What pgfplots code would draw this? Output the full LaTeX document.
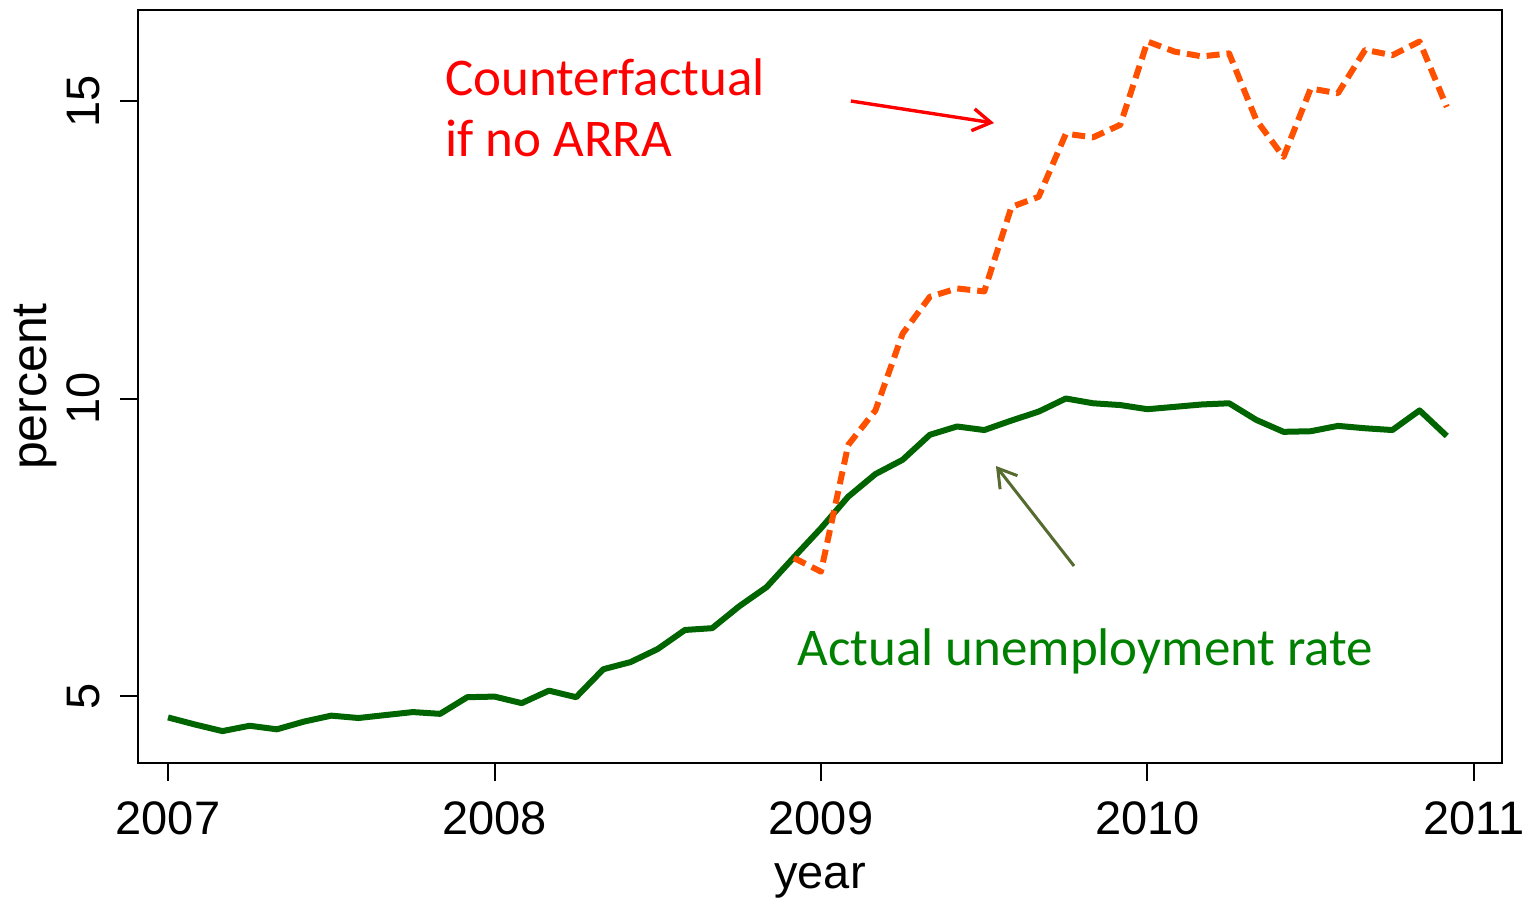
\documentclass[border=0pt]{standalone}
\usepackage{pgfplots}
\pgfplotsset{compat=1.18}
\usepackage{fontspec}
\setmainfont{Liberation Sans}
\newfontfamily\calibri{Carlito}
\usetikzlibrary{arrows.meta}
\definecolor{cfor}{HTML}{FF5000}
\definecolor{actg}{HTML}{006400}
\definecolor{arrg}{HTML}{556B2F}
\definecolor{txtg}{HTML}{008000}
\begin{document}
\begin{tikzpicture}
\begin{axis}[
  scale only axis, width=682pt, height=376.5pt,
  xmin=-1.103, xmax=49.03, ymin=3.874, ymax=16.53,
  axis line style={line width=1.4pt},
  xtick={0,12,24,36,48}, xticklabels={2007,2008,2009,2010,2011},
  ytick={5,10,15}, yticklabels={5,10,15},
  xtick pos=bottom, ytick pos=left, tick align=outside,
  major tick length=9pt,
  every tick/.style={black, line width=1pt},
  tick label style={font=\fontsize{23.5}{28}\selectfont},
  xticklabel style={inner sep=0pt, anchor=north, yshift=-10pt},
  yticklabel style={xshift=-10pt, rotate=90, inner sep=0pt, anchor=south},
  xlabel={year}, ylabel={percent},
  xlabel style={font=\fontsize{23.5}{28}\selectfont, at={(axis description cs:0.5,0)}, anchor=north, inner sep=0pt, yshift=-50pt},
  ylabel style={font=\fontsize{25}{30}\selectfont, at={(axis description cs:-0.0594,0.5)}, anchor=south, inner sep=0pt},
  clip=false,
]
\addplot[actg, line width=3pt, line join=round] coordinates {
(0,4.64) (1,4.52) (2,4.41) (3,4.50) (4,4.44) (5,4.57) (6,4.67) (7,4.63)
(8,4.68) (9,4.73) (10,4.70) (11,4.98) (12,4.99) (13,4.88) (14,5.09) (15,4.98)
(16,5.45) (17,5.57) (18,5.79) (19,6.11) (20,6.14) (21,6.51) (22,6.83) (23,7.33)
(24,7.82) (25,8.35) (26,8.73) (27,8.97) (28,9.39) (29,9.53) (30,9.47) (31,9.63)
(32,9.78) (33,10.00) (34,9.92) (35,9.89) (36,9.82) (37,9.86) (38,9.90) (39,9.92)
(40,9.64) (41,9.44) (42,9.45) (43,9.54) (44,9.50) (45,9.47) (46,9.80) (47,9.37)
};
\addplot[cfor, line width=3pt, line join=round, dash pattern=on 6.5pt off 3.5pt] coordinates {
(23,7.32) (24,7.09) (25,9.22) (26,9.80) (27,11.09) (28,11.71) (29,11.85) (30,11.80)
(31,13.22) (32,13.39) (33,14.45) (34,14.39) (35,14.60) (36,16.00) (37,15.83) (38,15.75)
(39,15.80) (40,14.68) (41,14.06) (42,15.21) (43,15.13) (44,15.86) (45,15.77) (46,16.00)
(47,14.90)
};
\node[anchor=base west, inner sep=0pt, text=red, font=\calibri\fontsize{26.5}{30}\selectfont] at (axis cs:10.18,15.10) {Counterfactual};
\node[anchor=base west, inner sep=0pt, text=red, font=\calibri\fontsize{26.5}{30}\selectfont] at (axis cs:10.18,14.06) {if no ARRA};
\node[anchor=base west, inner sep=0pt, text=txtg, font=\calibri\fontsize{26.5}{30}\selectfont] at (axis cs:23.12,5.52) {Actual unemployment rate};
\draw[red, line width=1.7pt, -{Straight Barb[length=9pt,width=11pt,line width=1.7pt]}] (axis cs:25.10,15.0) -- (axis cs:30.36,14.63);
\draw[arrg, line width=1.5pt, -{Straight Barb[length=9pt,width=11pt,line width=1.5pt]}] (axis cs:33.30,7.185) -- (axis cs:30.43,8.866);
\end{axis}
\pgfresetboundingbox
\path[use as bounding box] (-69pt,-68pt) rectangle (694pt,381.5pt);
\end{tikzpicture}
\end{document}
